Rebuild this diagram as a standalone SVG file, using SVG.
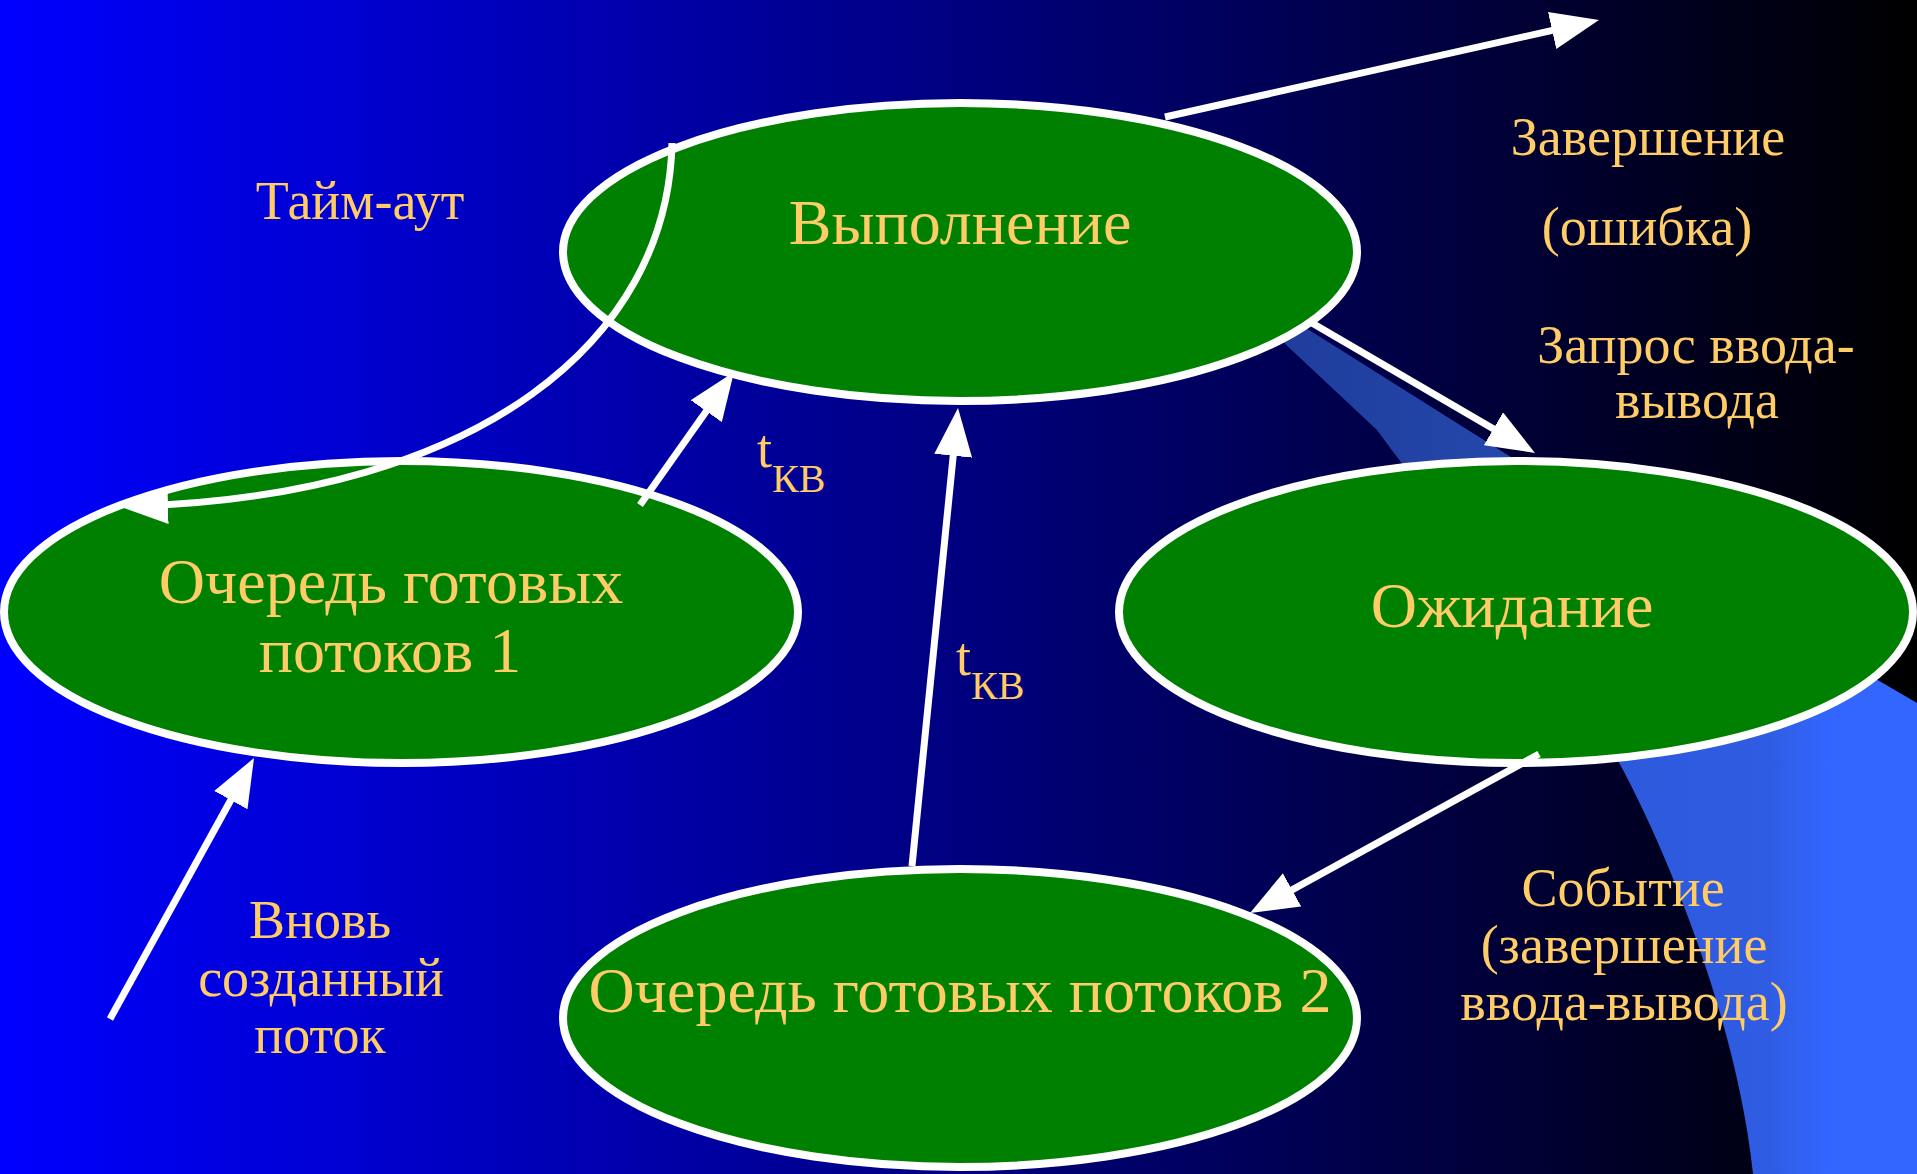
<svg xmlns="http://www.w3.org/2000/svg" width="1917" height="1174" viewBox="0 0 1917 1174">
  <defs>
    <linearGradient id="bg" x1="0" y1="0" x2="1917" y2="0" gradientUnits="userSpaceOnUse">
      <stop offset="0" stop-color="#0000FF"/>
      <stop offset="1" stop-color="#000000"/>
    </linearGradient>
    <linearGradient id="bandUp" x1="1280" y1="0" x2="1540" y2="0" gradientUnits="userSpaceOnUse">
      <stop offset="0" stop-color="#1F3D9C"/>
      <stop offset="1" stop-color="#2549AE"/>
    </linearGradient>
    <linearGradient id="bandLow" x1="1600" y1="0" x2="1917" y2="0" gradientUnits="userSpaceOnUse">
      <stop offset="0" stop-color="#2D59DC"/>
      <stop offset="0.53" stop-color="#2F5CE2"/>
      <stop offset="0.72" stop-color="#3366FF"/>
      <stop offset="1" stop-color="#3366FF"/>
    </linearGradient>
    <marker id="arrow" viewBox="0 0 48 38" markerWidth="48" markerHeight="38" refX="30" refY="19" orient="auto" markerUnits="userSpaceOnUse">
      <polygon points="0,0 48,19 0,38" fill="#FFFFFF"/>
    </marker>
    <style>
      .node { fill: #008000; stroke: #FFFFFF; stroke-width: 8; }
      .conn { fill: none; stroke: #FFFFFF; stroke-width: 7; marker-end: url(#arrow); }
      .txt { font-family: "Liberation Serif", "Times New Roman", serif; fill: #FFCC66; text-anchor: middle; }
      .big { font-size: 64px; }
      .lbl { font-size: 54px; }
    </style>
  </defs>

  <rect x="0" y="0" width="1917" height="1174" fill="url(#bg)"/>

  <g id="decoration">
    <path d="M1265,325 L1290,318 L1579,500 L1430,500 C1415,480 1395,455 1377,430 Z" fill="url(#bandUp)"/>
    <path d="M1600,730 C1645,800 1735,1000 1753,1174 L1917,1174 L1917,703 L1840,658 Z" fill="url(#bandLow)"/>
  </g>

  <g id="node-running">
    <ellipse class="node" cx="960" cy="252" rx="397" ry="149"/>
    <text class="txt big" x="960" y="244">Выполнение</text>
  </g>
  <g id="node-ready1">
    <ellipse class="node" cx="401" cy="612" rx="397" ry="151"/>
    <text class="txt big" x="391" y="603">Очередь готовых</text>
    <text class="txt big" x="390" y="672">потоков 1</text>
  </g>
  <g id="node-waiting">
    <ellipse class="node" cx="1516" cy="612" rx="397" ry="151"/>
    <text class="txt big" x="1512" y="627">Ожидание</text>
  </g>
  <g id="node-ready2">
    <ellipse class="node" cx="960" cy="1018" rx="397" ry="149"/>
    <text class="txt big" x="960" y="1012">Очередь готовых потоков 2</text>
  </g>

  <g id="connectors">
    <line class="conn" x1="1165" y1="117" x2="1581.4" y2="23.9"/>
    <line class="conn" x1="1312" y1="323" x2="1519.4" y2="443.9"/>
    <line class="conn" x1="1539" y1="754" x2="1265.8" y2="904.3"/>
    <line class="conn" x1="912" y1="866" x2="956.2" y2="425.9"/>
    <line class="conn" x1="640" y1="505" x2="723.6" y2="386.7"/>
    <line class="conn" x1="110" y1="1019" x2="245.3" y2="773.8"/>
    <path class="conn" d="M672,143 C668,340 480,495 138,506"/>
  </g>

  <g id="labels">
    <text class="txt lbl" x="360" y="219">Тайм-аут</text>
    <text class="txt lbl" x="1648" y="155">Завершение</text>
    <text class="txt lbl" x="1647" y="245">(ошибка)</text>
    <text class="txt lbl" x="1696" y="363">Запрос ввода-</text>
    <text class="txt lbl" x="1697" y="418">вывода</text>
    <text class="txt lbl" x="320" y="938">Вновь</text>
    <text class="txt lbl" x="321" y="996">созданный</text>
    <text class="txt lbl" x="320" y="1053">поток</text>
    <text class="txt lbl" x="1623" y="906">Событие</text>
    <text class="txt lbl" x="1624" y="963">(завершение</text>
    <text class="txt lbl" x="1624" y="1020">ввода-вывода)</text>
    <text class="txt lbl" x="757" y="467" style="text-anchor:start">t<tspan font-size="40" dy="25">КВ</tspan></text>
    <text class="txt lbl" x="956" y="675" style="text-anchor:start">t<tspan font-size="40" dy="24">КВ</tspan></text>
  </g>
</svg>
